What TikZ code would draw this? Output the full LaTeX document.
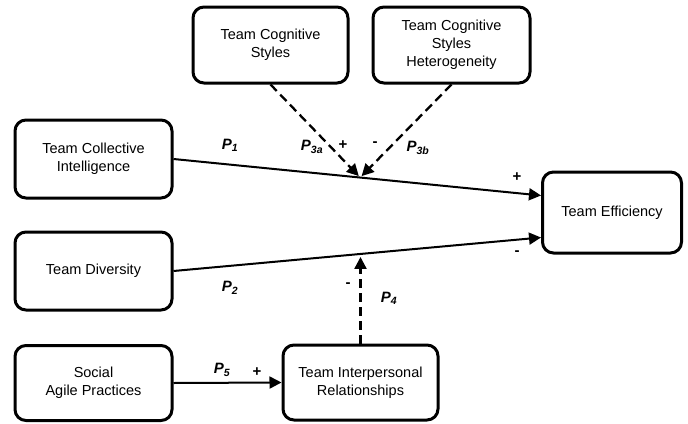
\documentclass[tikz,border=0pt]{standalone}
\usepackage{fontspec}
\setmainfont{Liberation Sans}
\usetikzlibrary{arrows.meta,calc}
\tikzset{
  box/.style={draw, line width=3pt, rounded corners=11pt, align=center, font=\fontsize{14.5}{18}\selectfont, inner sep=2pt},
  conn/.style={line width=2pt, -{Triangle[length=12pt,width=12pt]}},
  dconn/.style={conn, line width=2.3pt, dash pattern=on 9pt off 5pt},
  lab/.style={font=\fontsize{15}{17}\selectfont\bfseries\itshape, inner sep=0pt},
  sgn/.style={font=\fontsize{15}{17}\selectfont\bfseries, inner sep=0pt}
}
\newcommand{\Pl}[1]{P\textsubscript{\bfseries\itshape #1}}
\begin{document}
\begin{tikzpicture}[x=1pt,y=-1pt]
\useasboundingbox (0,0) rectangle (688,423);
\node[box, minimum width=157pt, minimum height=78pt] (tci) at (93.5,159) {Team Collective\\Intelligence};
\node[box, minimum width=157pt, minimum height=78pt] (td) at (93.5,271) {Team Diversity};
\node[box, minimum width=157pt, minimum height=75pt] (sap) at (93.5,383) {Social\\Agile Practices};
\node[box, minimum width=155pt, minimum height=75pt] (tir) at (360.5,382.5) {Team Interpersonal\\Relationships};
\node[box, minimum width=139pt, minimum height=81pt] (te) at (612,212.5) {Team Efficiency};
\node[box, minimum width=155pt, minimum height=76pt] (tcs) at (270.5,45) {Team Cognitive\\Styles};
\node[box, minimum width=157pt, minimum height=76pt] (tcsh) at (451.5,45) {Team Cognitive\\Styles\\Heterogeneity};

\draw[conn] (tci.east) -- ([yshift=17pt]te.west);
\draw[conn] (td.east) -- ([yshift=-25pt]te.west);
\draw[conn] (sap.east) -- (tir.west);
\coordinate (m1) at ($(tci.east)!0.508!([yshift=17pt]te.west)$);
\coordinate (m2) at ($(td.east)!0.508!([yshift=-25pt]te.west)$);
\draw[dconn, shorten >=2pt] (tcs.south) -- (m1);
\draw[dconn, shorten >=2pt] (tcsh.south) -- (m1);
\draw[dconn, shorten >=3pt] (tir.north) -- (tir.north |- m2);

\node[lab] (p1) at (230,145) {\Pl{1}};
\node[lab] (p3a) at (312,147) {\Pl{3a}};
\node[sgn] (s1) at (343,145) {+};
\node[sgn] (s2) at (375,144) {-};
\node[lab] (p3b) at (418,148) {\Pl{3b}};
\node[sgn] (s3) at (517,177) {+};
\node[sgn] (s4) at (517,253) {-};
\node[lab] (p2) at (230,288) {\Pl{2}};
\node[sgn] (s5) at (348,285) {-};
\node[lab] (p4) at (389,298) {\Pl{4}};
\node[lab] (p5) at (222,370) {\Pl{5}};
\node[sgn] (s6) at (257,372) {+};
\end{tikzpicture}
\end{document}
